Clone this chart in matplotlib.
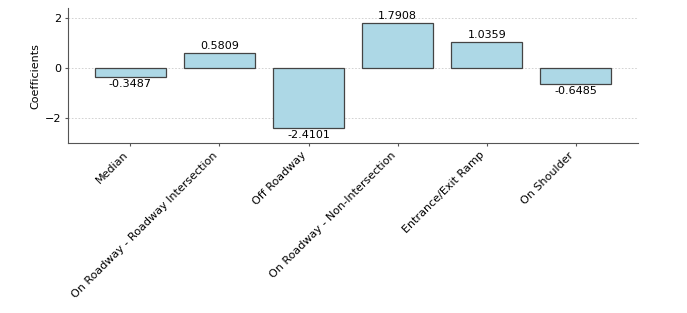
import matplotlib
matplotlib.use('agg')
import matplotlib.pyplot as plt
from matplotlib.ticker import MultipleLocator

categories = ['Median', 'On Roadway - Roadway Intersection', 'Off Roadway',
              'On Roadway - Non-Intersection', 'Entrance/Exit Ramp', 'On Shoulder']
coefs = [-0.3487, 0.5809, -2.4101, 1.7908, 1.0359, -0.6485]

fig = plt.figure(figsize=(6.87, 3.13), dpi=100)
ax = fig.add_axes([0.099, 0.543, 0.83, 0.431])

x = range(len(categories))
ax.bar(x, coefs, width=0.8, color='lightblue', edgecolor='#444444', linewidth=0.9, zorder=2)
for i, v in zip(x, coefs):
    if v >= 0:
        ax.text(i, v + 0.08, f'{v:.4f}', ha='center', va='bottom', fontsize=8)
    else:
        ax.text(i, v - 0.08, f'{v:.4f}', ha='center', va='top', fontsize=8)

ax.set_xticks(list(x))
ax.set_xticklabels(categories, rotation=45, ha='right', fontsize=8)
ax.tick_params(axis='both', labelsize=8, length=2.5, pad=2.5, color='#555555')
ax.yaxis.set_major_locator(MultipleLocator(2))
ax.set_ylabel('Coefficients', fontsize=8, labelpad=3)
ax.set_xlim(-0.7, 5.7)
ax.set_ylim(min(coefs) - 0.6, max(coefs) + 0.6)
ax.yaxis.grid(True, linestyle=(0, (2, 2)), color='#cccccc', linewidth=0.6, zorder=0)
ax.spines['top'].set_visible(False)
ax.spines['right'].set_visible(False)
ax.spines['left'].set_color('#555555')
ax.spines['bottom'].set_color('#555555')

fig.savefig('out.png', dpi=100)
